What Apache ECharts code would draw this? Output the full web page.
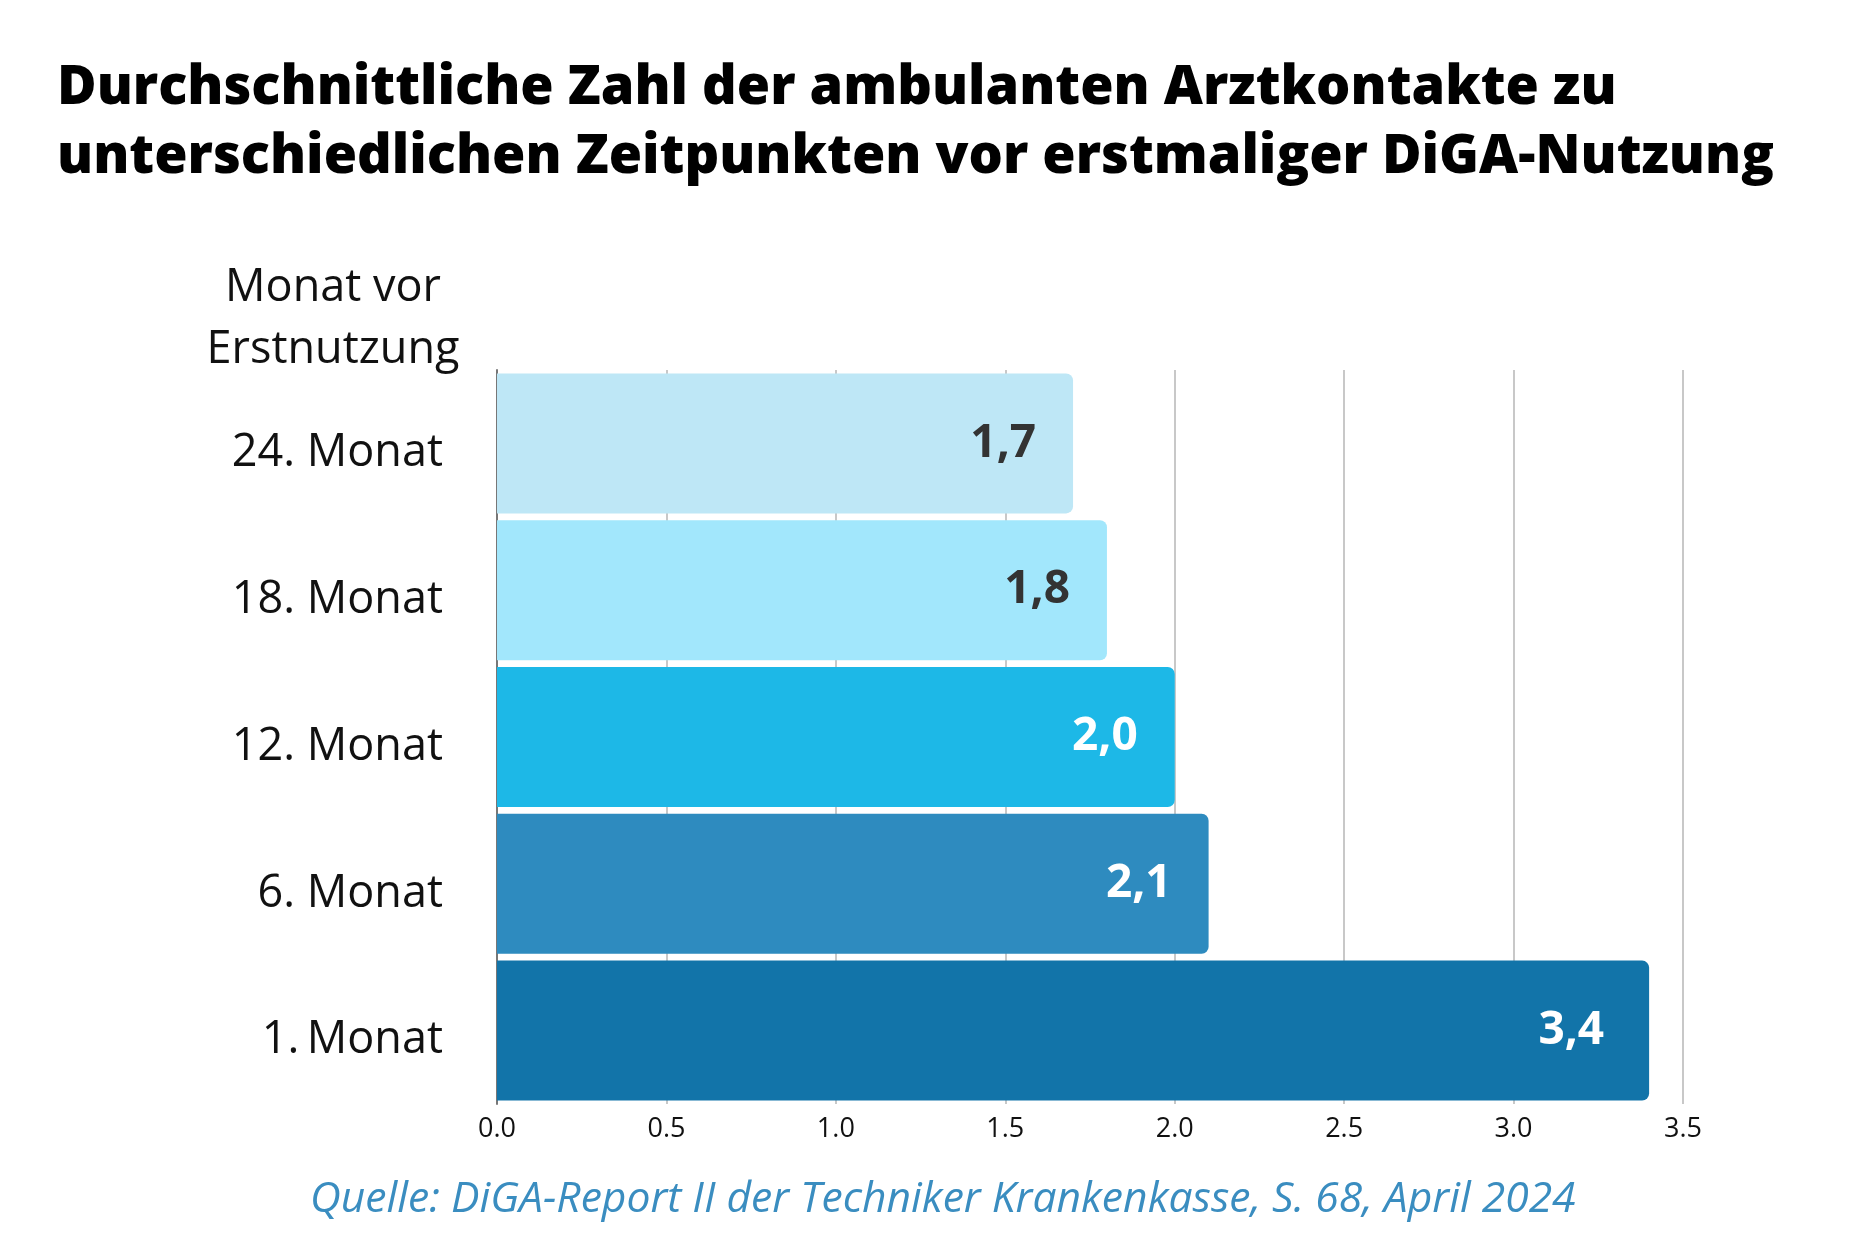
<!DOCTYPE html>
<html>
<head>
<meta charset="utf-8">
<script src="https://cdn.jsdelivr.net/npm/echarts@6/dist/echarts.min.js"></script>
<style>html,body{margin:0;padding:0;background:#fff}#c{width:1875px;height:1250px}</style>
</head>
<body>
<div id="c"></div>
<script>
const titleText = 'Durchschnittliche Zahl der ambulanten Arztkontakte zu\nunterschiedlichen Zeitpunkten vor erstmaliger DiGA-Nutzung';
const sourceText = 'Quelle: DiGA-Report II der Techniker Krankenkasse, S. 68, April 2024';
const axisName = 'Monat vor\nErstnutzung';
const categories = ['24. Monat', '18. Monat', '12. Monat', '6. Monat', '1.\u2009Monat'];
const values = [1.7, 1.8, 2.0, 2.1, 3.4];
const barColors = ['#BEE7F6', '#A2E7FC', '#1DB8E7', '#2E8BBF', '#1274A9'];
const labelColors = ['#333333', '#333333', '#ffffff', '#ffffff', '#ffffff'];
const xTicks = [0, 0.5, 1, 1.5, 2, 2.5, 3, 3.5];

const chart = echarts.init(document.getElementById('c'));
chart.setOption({
  backgroundColor: '#ffffff',
  animation: false,
  title: [
    { text: titleText, left: 52, top: 49,
      textStyle: { fontFamily: 'Open Sans', fontWeight: 800, fontSize: 54, lineHeight: 69, color: '#000' } },
    { text: sourceText, left: 305, top: 1173,
      textStyle: { fontFamily: 'Open Sans', fontStyle: 'italic', fontWeight: 'normal', fontSize: 42.6, color: '#3A8DC0' } }
  ],
  graphic: [{
    type: 'text', x: 333, y: 257,
    style: { text: axisName, fontFamily: 'Open Sans', fontSize: 45, lineHeight: 62, fill: '#111',
      align: 'center', verticalAlign: 'top' }
  }],
  grid: { left: 497, right: 192, top: 370, bottom: 146, containLabel: false, outerBoundsMode: 'none' },
  xAxis: {
    type: 'value', min: 0, max: 3.5, interval: 0.5,
    axisLine: { show: false }, axisTick: { show: false },
    splitLine: { show: true, lineStyle: { color: '#c8c8c8', width: 2 } },
    axisLabel: { fontFamily: 'Open Sans', fontSize: 27, color: '#111', margin: 12,
      formatter: v => v.toFixed(1) }
  },
  yAxis: {
    type: 'category', data: categories, inverse: true,
    axisLine: { show: true, lineStyle: { color: '#777', width: 2 } },
    axisTick: { show: false },
    axisLabel: {
      margin: 54,
      formatter: v => '{c|' + v + '}',
      rich: { c: { fontFamily: 'Open Sans', fontSize: 45, color: '#111', padding: [20, 0, 0, 0] } }
    }
  },
  series: [{
    type: 'bar',
    barCategoryGap: '4.6%',
    data: values.map((v, i) => ({
      value: v,
      itemStyle: { color: barColors[i], borderRadius: [0, 7, 7, 0] },
      label: { color: labelColors[i], distance: i === 4 ? 45 : 37 }
    })),
    label: {
      show: true, position: 'insideRight',
      fontFamily: 'Open Sans', fontWeight: 'bold', fontSize: 46,
      formatter: p => p.value.toFixed(1).replace('.', ',')
    }
  }]
});
</script>
</body>
</html>
